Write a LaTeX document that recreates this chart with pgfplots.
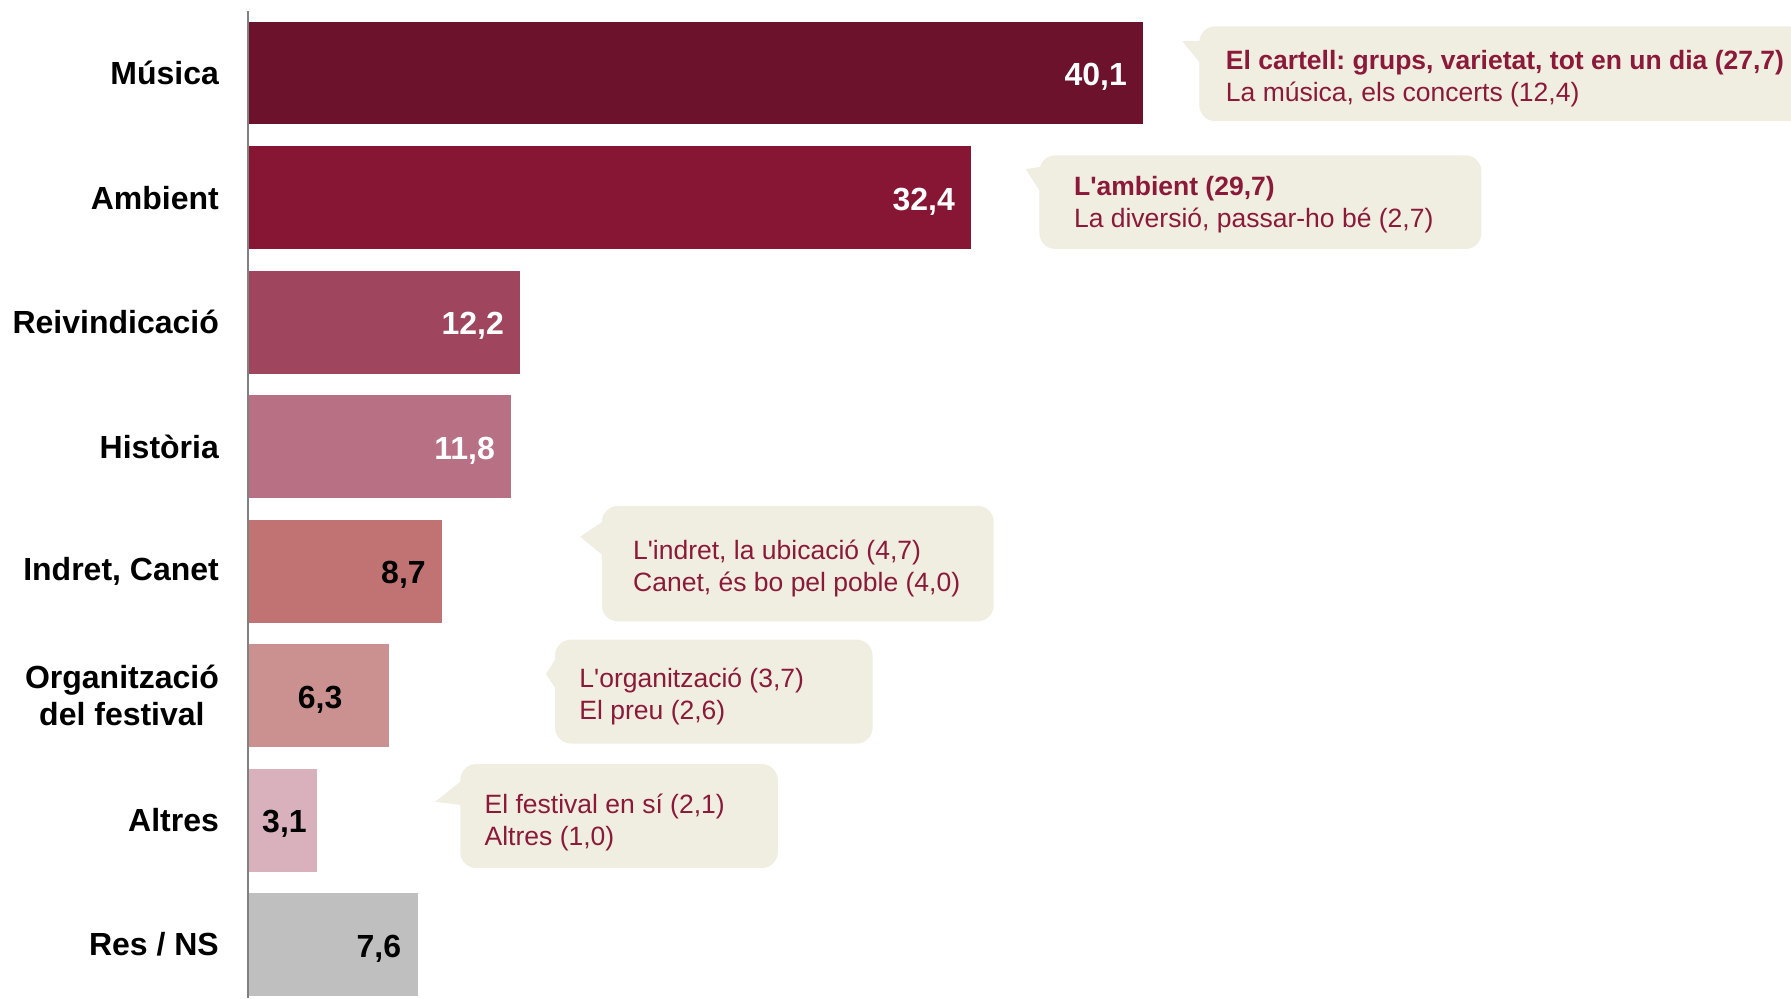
\documentclass[border=0pt]{standalone}
\usepackage{fontspec}
\setmainfont{Liberation Sans}
\usepackage{pgfplots}
\pgfplotsset{compat=1.18}
\frenchspacing
\definecolor{cMus}{RGB}{108,18,44}
\definecolor{cAmb}{RGB}{135,21,52}
\definecolor{cRei}{RGB}{160,69,94}
\definecolor{cHis}{RGB}{184,113,132}
\definecolor{cInd}{RGB}{192,115,114}
\definecolor{cOrg}{RGB}{203,144,144}
\definecolor{cAlt}{RGB}{216,177,188}
\definecolor{cRes}{RGB}{191,191,191}
\definecolor{cTxt}{RGB}{139,26,58}
\definecolor{cBox}{RGB}{240,237,225}
\definecolor{cAxis}{RGB}{128,128,128}
\newcommand{\ap}{\textquotesingle}
\begin{document}
\begin{tikzpicture}
\path[use as bounding box] (-123.93pt,0pt) rectangle (771.6pt,499.14pt);
\clip (-123.93pt,0pt) rectangle (771.6pt,499.14pt);
\begin{axis}[
  at={(0pt,0pt)}, anchor=south west,
  scale only axis, width=771.6pt, height=499.14pt,
  xmin=0, xmax=69.11, ymin=-0.431, ymax=7.587,
  xbar, bar width=0.826, bar shift=0pt,
  axis line style={draw=none},
  xtick=\empty, ytick={0,1,2,3,4,5,6,7},
  yticklabels={Res / NS, Altres, {Organització\\del festival}, {Indret, Canet}, Història, Reivindicació, Ambient, Música},
  major tick length=0pt,
  yticklabel style={font=\bfseries\fontsize{16}{18.3}\selectfont, align=center, inner sep=0pt, xshift=-14.3pt},
  nodes near coords, point meta=explicit symbolic,
  every node near coord/.append style={font=\bfseries\fontsize{16}{19}\selectfont, inner sep=0pt, yshift=-2pt},
]
\addplot[fill=cMus, draw=none, every node near coord/.append style={anchor=east, xshift=-8pt, text=white}] coordinates {(40.1,7) [40,1]};
\addplot[fill=cAmb, draw=none, every node near coord/.append style={anchor=east, xshift=-8pt, text=white}] coordinates {(32.4,6) [32,4]};
\addplot[fill=cRei, draw=none, every node near coord/.append style={anchor=east, xshift=-8pt, text=white}] coordinates {(12.2,5) [12,2]};
\addplot[fill=cHis, draw=none, every node near coord/.append style={anchor=east, xshift=-8pt, text=white}] coordinates {(11.8,4) [11,8]};
\addplot[fill=cInd, draw=none, every node near coord/.append style={anchor=east, xshift=-8pt, text=black}] coordinates {(8.7,3) [8,7]};
\addplot[fill=cOrg, draw=none, every node near coord/.append style={anchor=center, xshift=-34.2pt, text=black}] coordinates {(6.3,2) [6,3]};
\addplot[fill=cAlt, draw=none, every node near coord/.append style={anchor=center, xshift=-16.3pt, text=black}] coordinates {(3.1,1) [3,1]};
\addplot[fill=cRes, draw=none, every node near coord/.append style={anchor=east, xshift=-8pt, text=black}] coordinates {(7.6,0) [7,6]};
\end{axis}
\begin{scope}[x=0.5711pt, y=-0.5711pt, shift={(-123.93pt,499.14pt)}]
\draw[cAxis, line width=1.1pt] (217,10) -- (217,874);
% callout 1
\fill[cBox, rounded corners=8pt] (1050,23) rectangle (1620,106);
\fill[cBox] (1035,36) -- (1053,36) -- (1053,58) -- cycle;
\node[anchor=west, inner sep=0pt, align=left, text=cTxt, font=\fontsize{13.25}{16}\selectfont] at (1073,69) {\textbf{El cartell: grups, varietat, tot en un dia (27,7)}\\La música, els concerts (12,4)};
% callout 2
\fill[cBox, rounded corners=8pt] (910,136) rectangle (1297,218);
\fill[cBox] (898,148) -- (912,146) -- (912,170) -- cycle;
\node[anchor=west, inner sep=0pt, align=left, text=cTxt, font=\fontsize{13.25}{16}\selectfont] at (940,179) {\textbf{L\ap ambient (29,7)}\\La diversió, passar-ho bé (2,7)};
% callout 3
\fill[cBox, rounded corners=8pt] (527,443) rectangle (870,544);
\fill[cBox] (508,470) -- (530,455) -- (530,488) -- cycle;
\node[anchor=west, inner sep=0pt, align=left, text=cTxt, font=\fontsize{13.25}{16}\selectfont] at (554,498) {L\ap indret, la ubicació (4,7)\\Canet, és bo pel poble (4,0)};
% callout 4
\fill[cBox, rounded corners=8pt] (486,560) rectangle (764,651);
\fill[cBox] (478,590) -- (489,573) -- (489,607) -- cycle;
\node[anchor=west, inner sep=0pt, align=left, text=cTxt, font=\fontsize{13.25}{16}\selectfont] at (507,610) {L\ap organització (3,7)\\El preu (2,6)};
% callout 5
\fill[cBox, rounded corners=8pt] (403,669) rectangle (681,760);
\fill[cBox] (381,702) -- (406,682) -- (406,705) -- cycle;
\node[anchor=west, inner sep=0pt, align=left, text=cTxt, font=\fontsize{13.25}{16}\selectfont] at (424,720) {El festival en sí (2,1)\\Altres (1,0)};
\end{scope}
\end{tikzpicture}
\end{document}
